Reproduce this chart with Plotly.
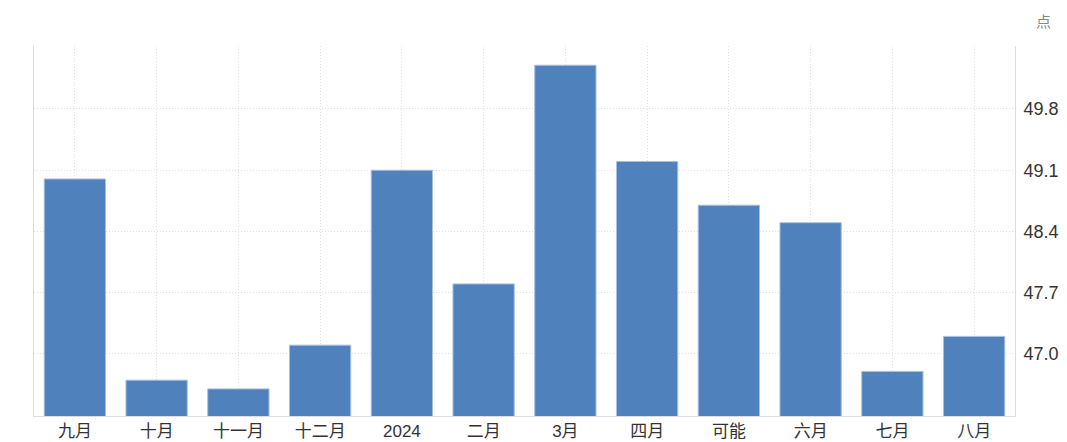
import plotly.graph_objects as go

# monthly index values
months = ['九月', '十月', '十一月', '十二月', '2024', '二月', '3月', '四月', '可能', '六月', '七月', '八月']
values = [49.0, 46.7, 46.6, 47.1, 49.1, 47.8, 50.3, 49.2, 48.7, 48.5, 46.8, 47.2]
y_ticks = [47.0, 47.7, 48.4, 49.1, 49.8]

fig = go.Figure()
fig.add_trace(go.Bar(
    x=months, y=values,
    marker=dict(color='#4f81bd', line=dict(color='#a9c0de', width=1)),
    hoverinfo='x+y',
))

# page body adds an 8px offset, so the figure is sized a little smaller
grid = '#e0e0e0'
fig.update_layout(
    width=1059, height=434,
    margin=dict(l=26, r=52, t=38, b=26, autoexpand=False),
    paper_bgcolor='white', plot_bgcolor='white',
    font=dict(family='Liberation Sans, Arial, Noto Sans CJK SC', size=16, color='#333333'),
    bargap=0.25,
    showlegend=False,
    xaxis=dict(
        type='category', automargin=False,
        showgrid=True, gridcolor=grid, griddash='1px,2px', gridwidth=1,
        showline=True, linecolor='#dddddd', linewidth=1,
        ticks='', tickfont=dict(size=17, color='#333333'),
        fixedrange=True,
    ),
    yaxis=dict(
        side='right', automargin=False,
        range=[46.29, 50.52],
        tickvals=y_ticks, ticktext=[f'{v:.1f}' for v in y_ticks],
        showgrid=True, gridcolor=grid, griddash='1px,2px', gridwidth=1,
        showline=True, linecolor='#dddddd', linewidth=1, mirror=True,
        zeroline=False, ticks='', ticklabelstandoff=4,
        tickfont=dict(size=18, color='#333333'),
        fixedrange=True,
    ),
    annotations=[dict(
        text='点', xref='paper', yref='paper', x=1.039, y=1.065,
        xanchor='right', yanchor='middle', showarrow=False,
        font=dict(size=15, color='#888888'),
    )],
)

fig.write_html("out.html")
